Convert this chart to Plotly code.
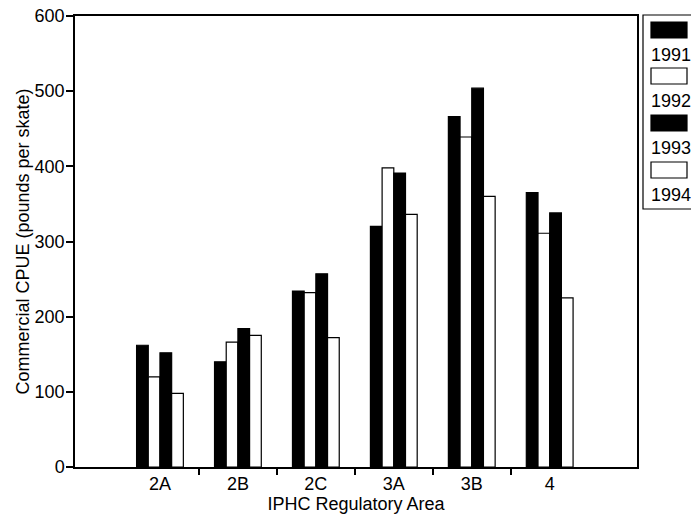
import plotly.graph_objects as go

areas = ["2A", "2B", "2C", "3A", "3B", "4"]
years = ["1991", "1992", "1993", "1994"]
cpue_1991 = [162, 140, 234, 320, 466, 365]
cpue_1992 = [120, 166, 232, 398, 439, 311]
cpue_1993 = [152, 184, 257, 391, 504, 338]
cpue_1994 = [98, 175, 172, 336, 360, 225]
series = [cpue_1991, cpue_1992, cpue_1993, cpue_1994]
fills = ["black", "white", "black", "white"]
y_ticks = [0, 100, 200, 300, 400, 500, 600]

FONT = "Liberation Sans, Arial, sans-serif"
xpos = list(range(len(areas)))

fig = go.Figure()
for yr, vals, col in zip(years, series, fills):
    fig.add_trace(go.Bar(
        x=xpos, y=vals, name=yr,
        marker=dict(color=col, line=dict(color="black", width=1.2)),
        showlegend=False,
    ))

W, H = 691, 514
L, R, T, B = 75, 54, 16, 47
pw, ph = W - L - R, H - T - B

def px(xp):
    return (xp - L) / pw

def py(yp):
    return (H - B - yp) / ph

shapes = []
annotations = []
# legend box
shapes.append(dict(type="rect", xref="paper", yref="paper",
                   x0=px(643), x1=px(700), y0=py(209), y1=py(15),
                   line=dict(color="black", width=1.2), fillcolor="white"))
sw_tops = [22, 68, 115, 162]
for i, (yr, col) in enumerate(zip(years, fills)):
    t = sw_tops[i]
    shapes.append(dict(type="rect", xref="paper", yref="paper",
                       x0=px(651), x1=px(687), y0=py(t + 16), y1=py(t),
                       line=dict(color="black", width=1.2), fillcolor=col))
    annotations.append(dict(text=yr, xref="paper", yref="paper",
                            x=px(649), y=py(t + 33), xanchor="left", yanchor="middle",
                            showarrow=False, font=dict(size=18, color="black", family=FONT)))

fig.update_layout(
    width=W, height=H,
    margin=dict(l=L, r=R, t=T, b=B),
    paper_bgcolor="white", plot_bgcolor="white",
    barmode="group", bargap=0.4, bargroupgap=0,
    font=dict(family=FONT, color="black", size=18),
    shapes=shapes, annotations=annotations,
    xaxis=dict(
        range=[-1.09, 6.12], automargin=False,
        tickmode="array", tickvals=xpos, ticktext=areas,
        ticks="", showgrid=False, zeroline=False,
        showline=True, linecolor="black", linewidth=1.5, mirror=True,
        tickfont=dict(size=18),
        minor=dict(tickmode="array", tickvals=[0.5, 1.5, 2.5, 3.5, 4.5],
                   ticks="outside", ticklen=6, tickcolor="black", tickwidth=1.5),
        title=dict(text="IPHC Regulatory Area", font=dict(size=18), standoff=2),
    ),
    yaxis=dict(
        range=[0, 600], tickmode="array", tickvals=y_ticks, automargin=False,
        ticks="outside", ticklen=7, tickcolor="black", tickwidth=1.5,
        ticklabelstandoff=-2,
        showgrid=False, zeroline=False,
        showline=True, linecolor="black", linewidth=1.5, mirror=True,
        tickfont=dict(size=18),
        title=dict(text="Commercial CPUE (pounds per skate)", font=dict(size=18), standoff=0),
    ),
)

fig.write_html("out.html", config={"displayModeBar": False},
               post_script="document.body.style.margin='0';document.body.style.overflow='hidden';")
